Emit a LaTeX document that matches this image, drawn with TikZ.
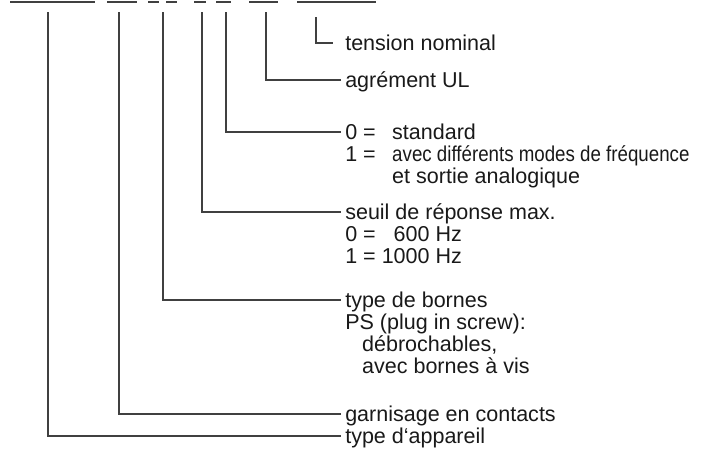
\documentclass[tikz,border=0pt]{standalone}
\usepackage{fontspec}
\setmainfont{Liberation Sans}
\newfontfamily\narrowfont[FakeStretch=0.87]{Liberation Sans}
\newcommand{\capstrut}{\rule{0pt}{14pt}}
\tikzstyle{desc} = [anchor=north west, inner sep=0pt, align=left, text=black!90, font=\fontsize{15.3}{15.65}\selectfont]
\tikzstyle{lead} = [draw=black!75, line width=0.8pt]
\tikzstyle{code} = [draw=black!75, line width=0.9pt]

\begin{document}
\begin{tikzpicture}[x=0.025cm, y=-0.025cm]
  \useasboundingbox (0,0) rectangle (706,450);

  % Unterstriche der Typenbezeichnung
  \draw[code] (10,2) -- (95,2);
  \draw[code] (107,2) -- (137,2);
  \draw[code] (148,2) -- (159,2);
  \draw[code] (166,2) -- (177,2);
  \draw[code] (194,2) -- (206,2);
  \draw[code] (216,2) -- (231,2);
  \draw[code] (249,2) -- (278,2);
  \draw[code] (297,2) -- (376,2);

  % Startpunkte
  \coordinate (v1) at (48,12);
  \coordinate (v2) at (119,12);
  \coordinate (v3) at (163,12);
  \coordinate (v4) at (202,12);
  \coordinate (v5) at (226,12);
  \coordinate (v6) at (266,12);
  \coordinate (v7) at (316,17);

  % Beschreibungen
  \node[desc] (nom) at (345,31) {\capstrut tension nominal};
  \node[desc] (ul) at (345,68) {\capstrut agrément UL};
  \node[desc] (mode) at (345,120) {\capstrut\makebox[33.4pt][l]{0 =}standard\\
    \makebox[33.4pt][l]{1 =}{\narrowfont avec différents modes de fréquence}\\
    \hspace*{33.4pt}et sortie analogique};
  \node[desc] (seuil) at (345,200) {\capstrut seuil de réponse max.\\
    0 = \phantom{1}600 Hz\\
    1 = 1000 Hz};
  \node[desc] (bornes) at (345,288) {\capstrut type de bornes\\
    PS (plug in screw):\\
    \hspace*{12pt}débrochables,\\
    \hspace*{12pt}avec bornes à vis};
  \node[desc] (contacts) at (345,402) {\capstrut garnisage en contacts};
  \node[desc] (appareil) at (345,424) {\capstrut type d‘appareil};

  % Linien
  \draw[lead] (v7) |- ([shift={(-12,12)}]nom.north west);
  \draw[lead] (v6) |- ([shift={(-4,12)}]ul.north west);
  \draw[lead] (v5) |- ([shift={(-4,12)}]mode.north west);
  \draw[lead] (v4) |- ([shift={(-4,12)}]seuil.north west);
  \draw[lead] (v3) |- ([shift={(-4,12)}]bornes.north west);
  \draw[lead] (v2) |- ([shift={(-4,12)}]contacts.north west);
  \draw[lead] (v1) |- ([shift={(-4,12)}]appareil.north west);
\end{tikzpicture}
\end{document}
